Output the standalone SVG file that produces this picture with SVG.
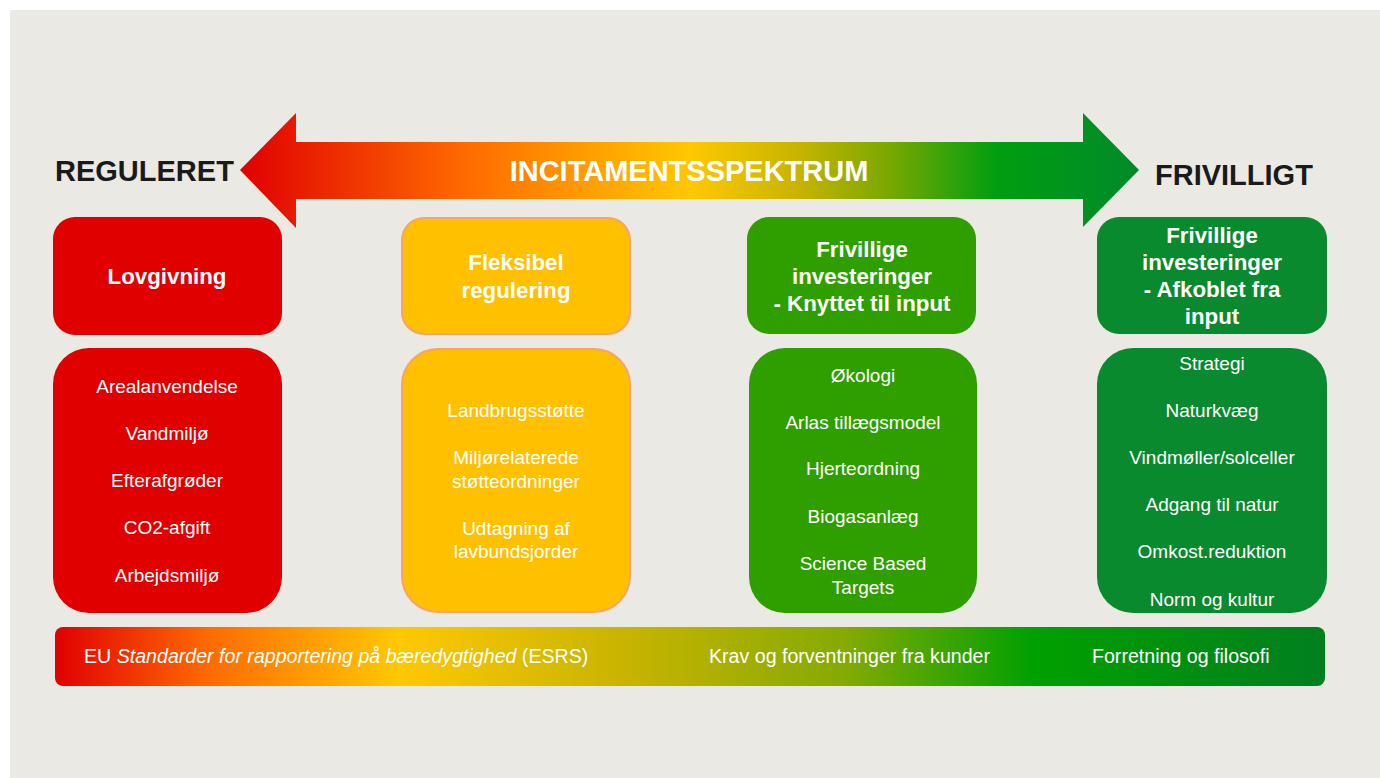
<svg xmlns="http://www.w3.org/2000/svg" width="1380" height="778" viewBox="0 0 1380 778">
<defs>
<linearGradient id="arrowGrad" gradientUnits="userSpaceOnUse" x1="240" y1="0" x2="1140" y2="0">
<stop offset="0" stop-color="#e00000"/>
<stop offset="0.25" stop-color="#ff6a00"/>
<stop offset="0.5" stop-color="#ffc800"/>
<stop offset="0.62" stop-color="#c8b400"/>
<stop offset="0.72" stop-color="#7aa800"/>
<stop offset="0.84" stop-color="#009e10"/>
<stop offset="1" stop-color="#008a2a"/>
</linearGradient>
<linearGradient id="barGrad" gradientUnits="userSpaceOnUse" x1="55" y1="0" x2="1325" y2="0">
<stop offset="0" stop-color="#e00000"/>
<stop offset="0.12" stop-color="#ff6a00"/>
<stop offset="0.27" stop-color="#ffc800"/>
<stop offset="0.45" stop-color="#c8b400"/>
<stop offset="0.62" stop-color="#86aa00"/>
<stop offset="0.77" stop-color="#00a000"/>
<stop offset="1" stop-color="#007f1f"/>
</linearGradient>
<style>
.title{font-family:"Liberation Sans",Arial,sans-serif;font-weight:bold;font-size:29px;fill:#1a1a1a;}
.spec{font-family:"Liberation Sans",Arial,sans-serif;font-weight:bold;font-size:29px;fill:#ffffff;text-anchor:middle;}
.head{font-family:"Liberation Sans",Arial,sans-serif;font-weight:bold;font-size:22.3px;fill:#ffffff;text-anchor:middle;}
.item{font-family:"Liberation Sans",Arial,sans-serif;font-size:19px;fill:#ffffff;text-anchor:middle;}
.bar{font-family:"Liberation Sans",Arial,sans-serif;font-size:19.6px;fill:#ffffff;}
.red{fill:#e00000;}
.yel{fill:#ffc000;stroke:#f7a26e;stroke-width:2;}
.grn{fill:#2f9f00;}
.dgr{fill:#0a8a2e;}
</style>
</defs>
<rect x="0" y="0" width="1380" height="778" fill="#ffffff"/>
<rect x="10" y="10" width="1370" height="768" fill="#eae9e3"/>

<g id="spectrum-arrow">
<polygon points="240,170 296,113 296,142 1083,142 1083,113 1139,170 1083,227 1083,199 296,199 296,228" fill="url(#arrowGrad)"/>
<text class="spec" x="689" y="181">INCITAMENTSSPEKTRUM</text>
</g>
<g id="label-reguleret"><text class="title" x="55" y="181">REGULERET</text></g>
<g id="label-frivilligt"><text class="title" x="1155" y="185">FRIVILLIGT</text></g>

<g id="col1-head">
<rect class="red" x="53" y="217" width="229" height="118" rx="22"/>
<text class="head" x="167" y="284">Lovgivning</text>
</g>
<g id="col1-body">
<rect class="red" x="53" y="348" width="229" height="265" rx="36"/>
<text class="item" x="167" y="393">Arealanvendelse</text>
<text class="item" x="167" y="440">Vandmiljø</text>
<text class="item" x="167" y="487">Efterafgrøder</text>
<text class="item" x="167" y="534">CO2-afgift</text>
<text class="item" x="167" y="582">Arbejdsmiljø</text>
</g>

<g id="col2-head">
<rect class="yel" x="402" y="218" width="228" height="116" rx="22"/>
<text class="head" x="516" y="270">Fleksibel</text>
<text class="head" x="516" y="298">regulering</text>
</g>
<g id="col2-body">
<rect class="yel" x="402" y="349" width="228" height="263" rx="36"/>
<text class="item" x="516" y="417">Landbrugsstøtte</text>
<text class="item" x="516" y="464">Miljørelaterede</text>
<text class="item" x="516" y="488">støtteordninger</text>
<text class="item" x="516" y="535">Udtagning af</text>
<text class="item" x="516" y="558">lavbundsjorder</text>
</g>

<g id="col3-head">
<rect class="grn" x="747" y="217" width="229" height="117" rx="22"/>
<text class="head" x="862" y="257">Frivillige</text>
<text class="head" x="862" y="284">investeringer</text>
<text class="head" x="862" y="311">- Knyttet til input</text>
</g>
<g id="col3-body">
<rect class="grn" x="749" y="348" width="228" height="265" rx="36"/>
<text class="item" x="863" y="382">Økologi</text>
<text class="item" x="863" y="429">Arlas tillægsmodel</text>
<text class="item" x="863" y="475">Hjerteordning</text>
<text class="item" x="863" y="523">Biogasanlæg</text>
<text class="item" x="863" y="570">Science Based</text>
<text class="item" x="863" y="594">Targets</text>
</g>

<g id="col4-head">
<rect class="dgr" x="1097" y="217" width="230" height="117" rx="22"/>
<text class="head" x="1212" y="243">Frivillige</text>
<text class="head" x="1212" y="270">investeringer</text>
<text class="head" x="1212" y="297">- Afkoblet fra</text>
<text class="head" x="1212" y="324">input</text>
</g>
<g id="col4-body">
<rect class="dgr" x="1097" y="348" width="230" height="265" rx="36"/>
<text class="item" x="1212" y="370">Strategi</text>
<text class="item" x="1212" y="417">Naturkvæg</text>
<text class="item" x="1212" y="464">Vindmøller/solceller</text>
<text class="item" x="1212" y="511">Adgang til natur</text>
<text class="item" x="1212" y="558">Omkost.reduktion</text>
<text class="item" x="1212" y="606">Norm og kultur</text>
</g>

<g id="bottom-bar">
<rect x="55" y="627" width="1270" height="59" rx="8" fill="url(#barGrad)"/>
<text class="bar" x="84" y="663">EU <tspan font-style="italic">Standarder for rapportering på bæredygtighed</tspan> (ESRS)</text>
<text class="bar" x="709" y="663">Krav og forventninger fra kunder</text>
<text class="bar" x="1092" y="663">Forretning og filosofi</text>
</g>
<g id="connectors"></g>
</svg>
